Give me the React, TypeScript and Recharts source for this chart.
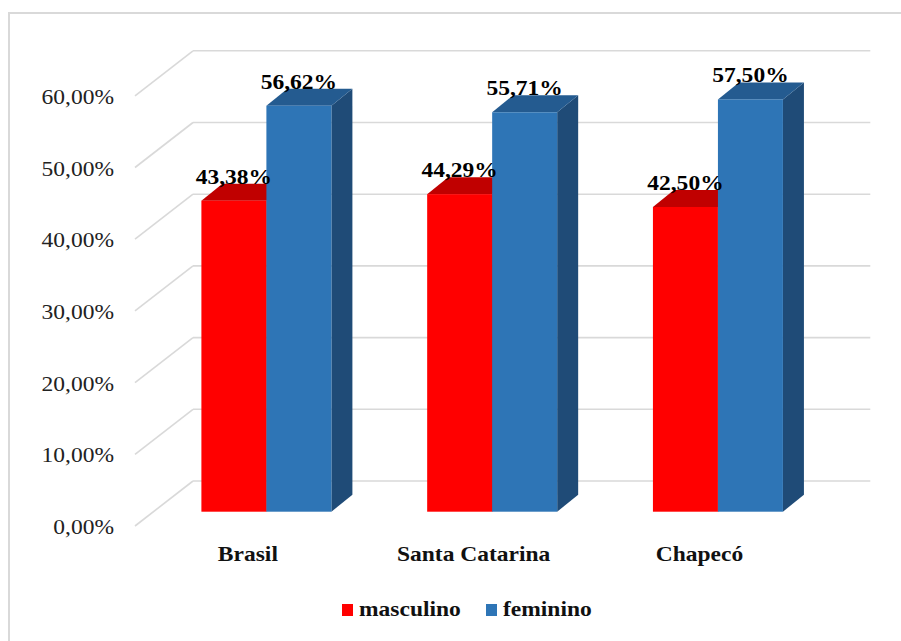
import { Bar, BarChart, CartesianGrid, LabelList, XAxis, YAxis } from 'recharts';

const categories = ['Brasil', 'Santa Catarina', 'Chapecó'];
const masculino = [43.38, 44.29, 42.5];
const feminino = [56.62, 55.71, 57.5];
const yTicks = [0, 10, 20, 30, 40, 50, 60];

const series = [
  { key: 'masculino', front: '#FF0000', top: '#C00000', side: '#A80000' },
  { key: 'feminino', front: '#2E75B6', top: '#245B90', side: '#1F4B77' }
];

const data = categories.map((name, i) => ({
  name,
  masculino: masculino[i],
  feminino: feminino[i]
}));

// fake 3d: bar depth and where the front/back planes sit relative to the bars
const DX = 21;
const DY = 17;
const FRONT = { dx: -18.4, dy: 14.3 };
const BACK = { dx: 39.6, dy: -30.7 };
const STRETCH = 'scale(1.12,1)';
const FONT = '"Liberation Serif", "Times New Roman", serif';
const GRID = '#d9d9d9';

const pct = (v: number) => `${v.toFixed(2).replace('.', ',')}%`;

function Box3D(props: any) {
  const { x, y, width, height, colors } = props;
  if (!height || height <= 0) return null;
  const r = x + width;
  const b = y + height;
  return (
    <g>
      <polygon
        points={`${r},${y} ${r + DX},${y - DY} ${r + DX},${b - DY} ${r},${b}`}
        fill={colors.side}
      />
      <polygon
        points={`${x},${y} ${x + DX},${y - DY} ${r + DX},${y - DY} ${r},${y}`}
        fill={colors.top}
      />
      <rect x={x} y={y} width={width} height={height} fill={colors.front} />
    </g>
  );
}

function ValueLabel(props: any) {
  const { x, y, width, value } = props;
  return (
    <text
      transform={`translate(${x + width / 2},${y - 17}) ${STRETCH}`}
      textAnchor='middle'
      fontFamily={FONT}
      fontWeight='bold'
      fontSize={21}
      fill='#000'
    >
      {pct(value)}
    </text>
  );
}

function YTick(props: any) {
  const { y, payload } = props;
  return (
    <text
      transform={`translate(114,${y + FRONT.dy + 8}) ${STRETCH}`}
      textAnchor='end'
      fontFamily={FONT}
      fontSize={21}
      fill='#222'
    >
      {pct(payload.value)}
    </text>
  );
}

function XTick(props: any) {
  const { x, payload } = props;
  return (
    <text
      transform={`translate(${x + FRONT.dx},561) ${STRETCH}`}
      textAnchor='middle'
      fontFamily={FONT}
      fontWeight='bold'
      fontSize={21}
      fill='#111'
    >
      {payload.value}
    </text>
  );
}

function GridLine(props: any) {
  const { x1, x2, y1, index } = props;
  return (
    <g key={`grid-${index}`}>
      <line
        x1={x1 + FRONT.dx}
        y1={y1 + FRONT.dy}
        x2={x1 + BACK.dx}
        y2={y1 + BACK.dy}
        stroke={GRID}
        strokeWidth={1.6}
      />
      <line
        x1={x1 + BACK.dx}
        y1={y1 + BACK.dy}
        x2={x2 + BACK.dx}
        y2={y1 + BACK.dy}
        stroke={GRID}
        strokeWidth={1.6}
      />
    </g>
  );
}

const legendItems = [
  { key: 'masculino', x: 342 },
  { key: 'feminino', x: 486 }
];

export default function App() {
  return (
    <div
      style={{
        position: 'absolute',
        left: 0,
        top: 0,
        width: 901,
        height: 641,
        overflow: 'hidden',
        background: '#fff'
      }}
    >
      <div
        style={{
          position: 'absolute',
          left: 8,
          top: 12,
          width: 1000,
          height: 1000,
          border: `2px solid ${GRID}`
        }}
      />
      <div style={{ position: 'absolute', left: 0, top: 0 }}>
        <BarChart
          width={901}
          height={641}
          data={data}
          barSize={65}
          barGap={0}
          margin={{ top: 81.5, right: 70.3, left: 0, bottom: 0 }}
        >
          <CartesianGrid vertical={false} horizontal={GridLine} />
          <XAxis
            dataKey='name'
            axisLine={false}
            tickLine={false}
            height={129.3}
            interval={0}
            tick={XTick}
          />
          <YAxis
            width={153.4}
            domain={[0, 60]}
            ticks={yTicks}
            axisLine={false}
            tickLine={false}
            tick={YTick}
          />
          {series.map((s) => (
            <Bar
              key={s.key}
              dataKey={s.key}
              isAnimationActive={false}
              shape={(p: any) => <Box3D {...p} colors={s} />}
            >
              <LabelList dataKey={s.key} content={ValueLabel} />
            </Bar>
          ))}
        </BarChart>
      </div>
      <svg
        width={901}
        height={641}
        style={{ position: 'absolute', left: 0, top: 0, pointerEvents: 'none' }}
      >
        {legendItems.map((item) => {
          const s = series.find((d) => d.key === item.key)!;
          return (
            <g key={item.key}>
              <rect x={item.x} y={604} width={11} height={12} fill={s.front} />
              <text
                transform={`translate(${item.x + 17},616) ${STRETCH}`}
                fontFamily={FONT}
                fontWeight='bold'
                fontSize={21}
                fill='#111'
              >
                {item.key}
              </text>
            </g>
          );
        })}
      </svg>
    </div>
  );
}
